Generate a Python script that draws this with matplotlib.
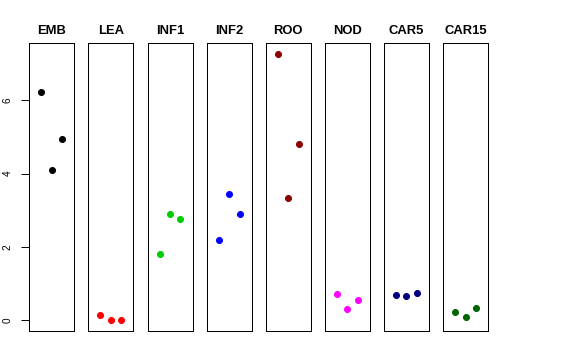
import numpy as np
import matplotlib
matplotlib.use("Agg")
import matplotlib.pyplot as plt

plt.rcParams["font.family"] = ["Liberation Sans", "DejaVu Sans"]

# Panel names, colours and values (three points per panel)
groups = ["EMB", "LEA", "INF1", "INF2", "ROO", "NOD", "CAR5", "CAR15"]
colors = ["black", "red", "#00CD00", "blue", "#8B0000", "magenta", "#000080", "#006400"]
emb = [6.23, 4.10, 4.94]
lea = [0.14, 0.01, 0.00]
inf1 = [1.81, 2.89, 2.75]
inf2 = [2.19, 3.44, 2.89]
roo = [7.27, 3.34, 4.82]
nod = [0.72, 0.29, 0.55]
car5 = [0.68, 0.67, 0.75]
car15 = [0.21, 0.07, 0.34]
values = [emb, lea, inf1, inf2, roo, nod, car5, car15]
positions = [1, 2, 3]

W, H = 576, 360
fig = plt.figure(figsize=(W / 72, H / 72), dpi=72)

allv = np.concatenate(values)
lo, hi = allv.min(), allv.max()
pad = 0.04 * (hi - lo)

left0, step, width = 29.3, 59.1, 45.0
top, bottom = 43.3, 330.7

for i, (name, col, vals) in enumerate(zip(groups, colors, values)):
    ax = fig.add_axes([(left0 + step * i) / W, (H - bottom) / H,
                       width / W, (bottom - top) / H])
    ax.plot(positions, vals, "o", color=col, markersize=6, linestyle="")
    ax.set_xlim(-0.16, 4.16)
    ax.set_ylim(lo - pad, hi + pad)
    ax.set_xticks([])
    for s in ax.spines.values():
        s.set_linewidth(1.0)
        s.set_color("black")
    ax.set_title(name, fontsize=13, fontweight="bold", pad=9)
    if i == 0:
        ax.set_yticks([0, 2, 4, 6])
        ax.tick_params(axis="y", length=8, pad=9, labelsize=10, width=1)
        for lab in ax.get_yticklabels():
            lab.set_rotation(90)
            lab.set_va("center")
    else:
        ax.set_yticks([])

fig.savefig("out.png", dpi=72)
